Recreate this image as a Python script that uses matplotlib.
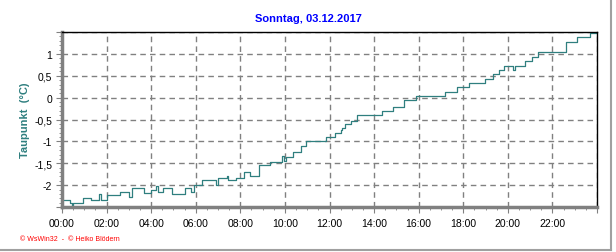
import matplotlib
matplotlib.use("Agg")
import matplotlib.pyplot as plt
from matplotlib.ticker import MultipleLocator, FuncFormatter
from matplotlib.lines import Line2D

plt.rcParams['font.family'] = ['Liberation Sans', 'DejaVu Sans']

# step changes: hour of day -> dew point (°C)
hours = [0.0, 0.35, 0.45, 0.5, 0.94, 1.3, 1.68, 1.74, 2.03, 2.58, 3.0, 3.12,
         3.7, 4.0, 4.2, 4.3, 4.55, 4.95, 5.5, 5.8, 5.9, 6.3, 6.92, 6.98,
         7.4, 7.45, 7.8, 8.15, 8.45, 8.85, 9.35, 9.85, 9.98, 10.05, 10.35,
         10.7, 10.93, 11.85, 12.25, 12.5, 12.58, 12.7, 12.95, 13.25, 14.35,
         14.85, 15.33, 15.88, 17.2, 17.7, 18.25, 18.98, 19.35, 19.62, 19.85,
         20.25, 20.33, 20.75, 21.1, 21.35, 22.62, 23.1, 23.7, 24.0]
taupunkt = [-2.35, -2.40, -2.48, -2.40, -2.29, -2.35, -2.20, -2.35, -2.23,
            -2.15, -2.28, -2.06, -2.19, -2.11, -2.02, -2.15, -2.06, -2.20,
            -2.06, -2.15, -2.00, -1.89, -2.00, -1.83, -1.78, -1.89, -1.83,
            -1.69, -1.79, -1.54, -1.46, -1.34, -1.45, -1.36, -1.25, -1.11,
            -1.00, -0.91, -0.81, -0.75, -0.70, -0.60, -0.53, -0.40, -0.31,
            -0.22, -0.05, 0.04, 0.12, 0.24, 0.33, 0.42, 0.53, 0.63, 0.73,
            0.63, 0.73, 0.84, 0.92, 1.04, 1.27, 1.38, 1.48, 1.48]

title = "Sonntag, 03.12.2017"
ylabel = "Taupunkt  (°C)"
footer = "© WsWin32  -  © Heiko Blödern"


def fmt_y(y, pos):
    if y > 1.01 or y < -2.01:
        return ''
    return f'{y:g}'.replace('.', ',')


fig = plt.figure(figsize=(6.16, 2.53), dpi=100)
ax = fig.add_axes([62 / 616, 45 / 253, 535 / 616, 175 / 253])

ax.plot(hours, taupunkt, drawstyle='steps-post', color='#2f7f7f', linewidth=0.9)

ax.set_xlim(0, 24)
ax.set_ylim(-2.5, 1.5)
ax.xaxis.set_major_locator(MultipleLocator(2))
ax.xaxis.set_minor_locator(MultipleLocator(0.5))
ax.yaxis.set_major_locator(MultipleLocator(0.5))
ax.yaxis.set_minor_locator(MultipleLocator(0.1))
ax.xaxis.set_major_formatter(FuncFormatter(lambda x, p: f'{int(x):02d}:00' if x < 24 else ''))
ax.yaxis.set_major_formatter(FuncFormatter(fmt_y))

ax.grid(True, which='major', color='#808080', linestyle=(0, (4, 3)), linewidth=1)
ax.tick_params(axis='both', which='major', labelsize=7.5, length=4, color='#808080')
ax.tick_params(axis='x', which='major', pad=4)
ax.tick_params(axis='y', which='major', pad=3)
ax.tick_params(axis='both', which='minor', length=2, color='#808080')

for side in ('left', 'bottom'):
    ax.spines[side].set_color('#808080')
    ax.spines[side].set_linewidth(2.5)
for side in ('top', 'right'):
    ax.spines[side].set_color('black')
    ax.spines[side].set_linewidth(1)

fig.text(0.5, 1 - 19 / 253, title, ha='center', va='center',
         fontsize=8, fontweight='bold', color='#0000ff')
fig.text(25 / 616, 1 - 120 / 253, ylabel, ha='center', va='center', rotation=90,
         fontsize=8, fontweight='bold', color='#2f7f7f')
fig.text(20 / 616, 1 - 240 / 253, footer, ha='left', va='center',
         fontsize=5, color='#ff0000')

# outer frame lines at right and bottom
fig.add_artist(Line2D([0, 611 / 616], [2 / 253, 2 / 253], color='#a0a0a0', linewidth=1.5))
fig.add_artist(Line2D([611 / 616, 611 / 616], [2 / 253, 1], color='#a0a0a0', linewidth=1.5))

fig.savefig('out.png', dpi=100)
